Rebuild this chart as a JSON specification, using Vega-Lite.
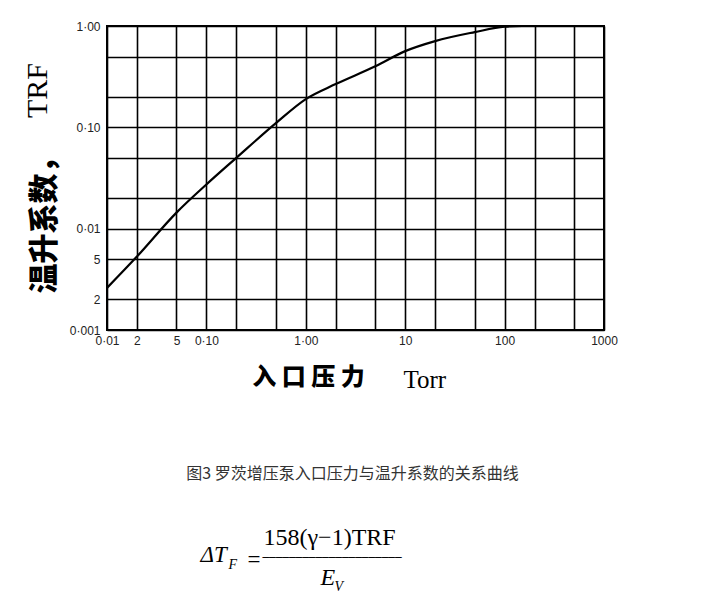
{
  "$schema": "https://vega.github.io/schema/vega-lite/v6.json",
  "width": 497,
  "height": 304,
  "autosize": {"type": "none"},
  "padding": {"left": 107, "top": 26, "right": 115, "bottom": 263},
  "background": "white",
  "data": {
    "values": [
      {"p": 0.01, "t": 0.0026},
      {"p": 0.02, "t": 0.0053},
      {"p": 0.05, "t": 0.0144},
      {"p": 0.1, "t": 0.0273},
      {"p": 0.2, "t": 0.05},
      {"p": 0.5, "t": 0.11},
      {"p": 1, "t": 0.19},
      {"p": 2, "t": 0.267},
      {"p": 5, "t": 0.4},
      {"p": 10, "t": 0.565},
      {"p": 20, "t": 0.71},
      {"p": 50, "t": 0.87},
      {"p": 100, "t": 0.985},
      {"p": 150, "t": 1.0},
      {"p": 1000, "t": 1.0}
    ]
  },
  "resolve": {"axis": {"x": "independent", "y": "independent"}},
  "layer": [
    {
      "mark": {"type": "line", "color": "#000", "strokeWidth": 2.2, "interpolate": "monotone", "clip": true},
      "encoding": {
        "x": {"field": "p", "type": "quantitative", "scale": {"type": "log", "domain": [0.01, 1000], "nice": false},
          "axis": {"orient": "bottom", "grid": true, "labels": true, "labelOverlap": false, "labelFlush": false,
            "values": [0.01, 0.02, 0.05, 0.1, 0.2, 0.5, 1, 2, 5, 10, 20, 50, 100, 200, 500, 1000],
            "labelExpr": "datum.value==0.01?'0·01':datum.value==0.02?'2':datum.value==0.05?'5':datum.value==0.1?'0·10':datum.value==1?'1·00':datum.value==10?'10':datum.value==100?'100':datum.value==1000?'1000':''",
            "labelFont": "Liberation Sans", "labelFontSize": 12, "labelPadding": 5, "labelColor": "#222",
            "gridColor": "#000", "gridWidth": 1.6, "gridOpacity": 1,
            "title": "入 口 压 力", "titleFont": "Noto Sans CJK SC", "titleFontWeight": 900, "titleFontSize": 24,
            "titleX": 201, "titleY": 47, "titleAlign": "center", "titleBaseline": "middle"}},
        "y": {"field": "t", "type": "quantitative", "scale": {"type": "log", "domain": [0.001, 1], "nice": false},
          "axis": {"orient": "left", "grid": true, "labels": true, "labelOverlap": false, "labelFlush": false,
            "values": [0.001, 0.002, 0.005, 0.01, 0.02, 0.05, 0.1, 0.2, 0.5, 1],
            "labelExpr": "datum.value==1?'1·00':datum.value==0.1?'0·10':datum.value==0.01?'0·01':datum.value==0.005?'5':datum.value==0.002?'2':datum.value==0.001?'0·001':''",
            "labelFont": "Liberation Sans", "labelFontSize": 12, "labelPadding": 7, "labelColor": "#222",
            "gridColor": "#000", "gridWidth": 1.6, "gridOpacity": 1,
            "title": "温升系数，", "titleFont": "Noto Sans CJK SC", "titleFontWeight": 900, "titleFontSize": 30,
            "titleAngle": -90, "titleX": -63, "titleY": 192, "titleAlign": "center", "titleBaseline": "middle"}}
      }
    },
    {
      "mark": {"type": "line", "opacity": 0},
      "encoding": {
        "x": {"field": "p", "type": "quantitative",
          "axis": {"orient": "bottom", "title": "Torr", "titleFont": "Liberation Serif", "titleFontWeight": "normal", "titleFontSize": 25,
            "titleX": 296, "titleY": 57, "titleAlign": "left", "titleBaseline": "alphabetic"}},
        "y": {"field": "t", "type": "quantitative",
          "axis": {"orient": "left", "title": "TRF", "titleFont": "Liberation Serif", "titleFontWeight": "normal", "titleFontSize": 30,
            "titleAngle": -90, "titleX": -61, "titleY": 64, "titleAlign": "center", "titleBaseline": "alphabetic"}}
      }
    },
    {
      "mark": {"type": "line", "opacity": 0},
      "encoding": {
        "x": {"field": "p", "type": "quantitative",
          "axis": {"orient": "bottom", "title": "图3 罗茨增压泵入口压力与温升系数的关系曲线", "titleFont": "Noto Sans CJK SC", "titleFontWeight": "normal", "titleFontSize": 16, "titleColor": "#333",
            "titleX": 245, "titleY": 143, "titleAlign": "center", "titleBaseline": "middle"}},
        "y": {"field": "t", "type": "quantitative",
          "axis": {"orient": "left", "title": "ΔT", "titleFont": "Liberation Serif", "titleFontWeight": "normal", "titleFontStyle": "italic", "titleFontSize": 23,
            "titleAngle": 0, "titleX": 93, "titleY": 535, "titleAlign": "left", "titleBaseline": "alphabetic"}}
      }
    },
    {
      "mark": {"type": "line", "opacity": 0},
      "encoding": {
        "x": {"field": "p", "type": "quantitative",
          "axis": {"orient": "bottom", "title": "F", "titleFont": "Liberation Serif", "titleFontWeight": "normal", "titleFontStyle": "italic", "titleFontSize": 14,
            "titleX": 121, "titleY": 238, "titleAlign": "left", "titleBaseline": "alphabetic"}},
        "y": {"field": "t", "type": "quantitative",
          "axis": {"orient": "left", "title": "=", "titleFont": "Liberation Serif", "titleFontWeight": "normal", "titleFontSize": 23,
            "titleAngle": 0, "titleX": 140, "titleY": 540, "titleAlign": "left", "titleBaseline": "alphabetic"}}
      }
    },
    {
      "mark": {"type": "line", "opacity": 0},
      "encoding": {
        "x": {"field": "p", "type": "quantitative",
          "axis": {"orient": "bottom", "title": "158(γ−1)TRF", "titleFont": "Liberation Serif", "titleFontWeight": "normal", "titleFontSize": 24,
            "titleX": 156, "titleY": 214, "titleAlign": "left", "titleBaseline": "alphabetic"}},
        "y": {"field": "t", "type": "quantitative",
          "axis": {"orient": "left", "title": "─────────────────────", "titleFont": "DejaVu Sans", "titleFontWeight": "normal", "titleFontSize": 11,
            "titleAngle": 0, "titleX": 155, "titleY": 531, "titleAlign": "left", "titleBaseline": "middle"}}
      }
    },
    {
      "mark": {"type": "line", "opacity": 0},
      "encoding": {
        "x": {"field": "p", "type": "quantitative",
          "axis": {"orient": "bottom", "title": "E", "titleFont": "Liberation Serif", "titleFontWeight": "normal", "titleFontStyle": "italic", "titleFontSize": 24,
            "titleX": 213, "titleY": 254, "titleAlign": "left", "titleBaseline": "alphabetic"}},
        "y": {"field": "t", "type": "quantitative",
          "axis": {"orient": "left", "title": "V", "titleFont": "Liberation Serif", "titleFontWeight": "normal", "titleFontStyle": "italic", "titleFontSize": 14,
            "titleAngle": 0, "titleX": 227, "titleY": 564, "titleAlign": "left", "titleBaseline": "alphabetic"}}
      }
    }
  ],
  "config": {
    "view": {"stroke": "#000", "strokeWidth": 2},
    "axis": {"grid": false, "ticks": false, "domain": false, "labels": false, "titleColor": "#000", "titlePadding": 0}
  }
}
